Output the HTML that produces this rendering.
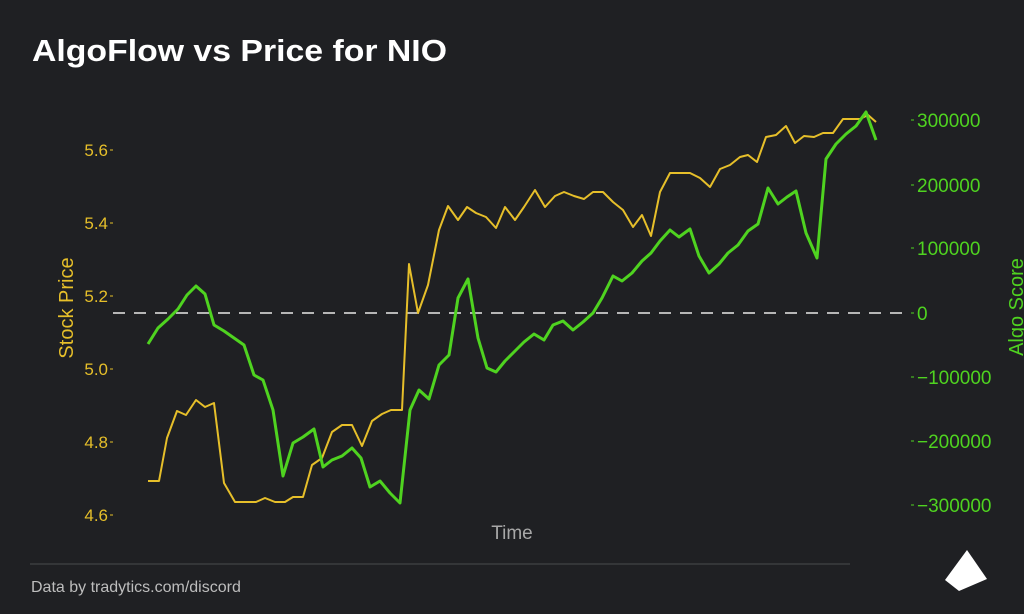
<!DOCTYPE html>
<html><head><meta charset="utf-8"><style>
html,body{margin:0;padding:0;background:#1f2023;}
svg{display:block;}
</style></head><body>
<svg width="1024" height="614" viewBox="0 0 1024 614" xmlns="http://www.w3.org/2000/svg" font-family="Liberation Sans, sans-serif">
<rect width="1024" height="614" fill="#1f2023"/>
<text x="32" y="61" fill="#ffffff" font-size="31" font-weight="bold" textLength="415" lengthAdjust="spacingAndGlyphs">AlgoFlow vs Price for NIO</text>
<g fill="#e6bf2a" font-size="17" text-anchor="end">
<text x="108" y="156">5.6</text><text x="108" y="229">5.4</text><text x="108" y="302">5.2</text>
<text x="108" y="375">5.0</text><text x="108" y="448">4.8</text><text x="108" y="521">4.6</text>
</g>
<g stroke="#e6bf2a" stroke-width="1"><line x1="110" y1="150" x2="113" y2="150"/><line x1="110" y1="223" x2="113" y2="223"/><line x1="110" y1="296" x2="113" y2="296"/><line x1="110" y1="369" x2="113" y2="369"/><line x1="110" y1="442" x2="113" y2="442"/><line x1="110" y1="515" x2="113" y2="515"/></g>
<text transform="translate(73,308) rotate(-90)" fill="#e6bf2a" font-size="20" text-anchor="middle">Stock Price</text>
<g fill="#4fd320" font-size="19">
<text x="917" y="127">300000</text><text x="917" y="192">200000</text><text x="917" y="255">100000</text>
<text x="917" y="320">0</text><text x="917" y="384">−100000</text><text x="917" y="448">−200000</text><text x="917" y="512">−300000</text>
</g>
<g stroke="#4fd320" stroke-width="1"><line x1="911" y1="120" x2="914" y2="120"/><line x1="911" y1="185" x2="914" y2="185"/><line x1="911" y1="248" x2="914" y2="248"/><line x1="911" y1="313" x2="914" y2="313"/><line x1="911" y1="377" x2="914" y2="377"/><line x1="911" y1="441" x2="914" y2="441"/><line x1="911" y1="505" x2="914" y2="505"/></g>
<text transform="translate(1023,307) rotate(-90)" fill="#4fd320" font-size="20" text-anchor="middle">Algo Score</text>
<line x1="113" y1="313" x2="905" y2="313" stroke="#e8e8e8" stroke-width="1.5" stroke-dasharray="12,9"/>
<polyline fill="none" stroke="#e6bf2a" stroke-width="2" stroke-linejoin="round" points="148,481 159,481 167,438 177,411 186,415 196,400 205,407 214,403 224,483 235,502 246,502 256,502 265,498 275,502 285,502 293,497 303,497 312,465 322,458 332,432 342,425 352,425 362,446 372,421 382,414 391,410 402,410 409,264 418,313 428,285 439,230 448,206 458,220 467,207 476,213 486,217 496,228 505,207 515,220 524,207 535,190 545,207 555,196 564,192 574,196 584,199 593,192 603,192 613,202 623,210 633,227 642,215 651,236 660,192 670,173 680,173 690,173 700,178 710,187 720,169 730,165 740,157 748,155 757,162 766,137 776,135 786,126 795,143 804,136 814,137 823,133 833,133 843,119 853,119 860,119 868,115 876,122"/>
<polyline fill="none" stroke="#4fd320" stroke-width="3" stroke-linejoin="round" points="148,344 158,328 168,319 178,309 187,295 196,286 205,294 214,325 224,331 234,338 244,345 254,375 263,380 273,410 283,476 293,443 303,437 314,429 323,467 332,460 342,456 352,448 361,458 370,487 380,481 390,493 400,503 410,410 419,390 429,399 439,365 449,355 458,298 468,279 478,338 487,368 496,372 505,361 515,351 524,342 534,334 544,340 553,325 563,321 573,330 583,322 593,313 602,298 613,276 622,281 632,273 642,261 651,253 660,241 670,230 679,237 690,229 699,256 709,273 719,264 728,253 738,245 748,231 758,224 768,188 778,204 787,197 796,191 806,233 817,258 826,159 836,144 846,134 856,126 866,112 876,140"/>
<text x="512" y="539" fill="#a8a8a8" font-size="19" text-anchor="middle">Time</text>
<line x1="30" y1="564" x2="850" y2="564" stroke="#4a4b4e" stroke-width="1"/>
<text x="31" y="592" fill="#bdbdbd" font-size="16">Data by tradytics.com/discord</text>
<polygon points="967,550 987,579 959,591 945,580" fill="#ffffff"/>
</svg>
</body></html>
